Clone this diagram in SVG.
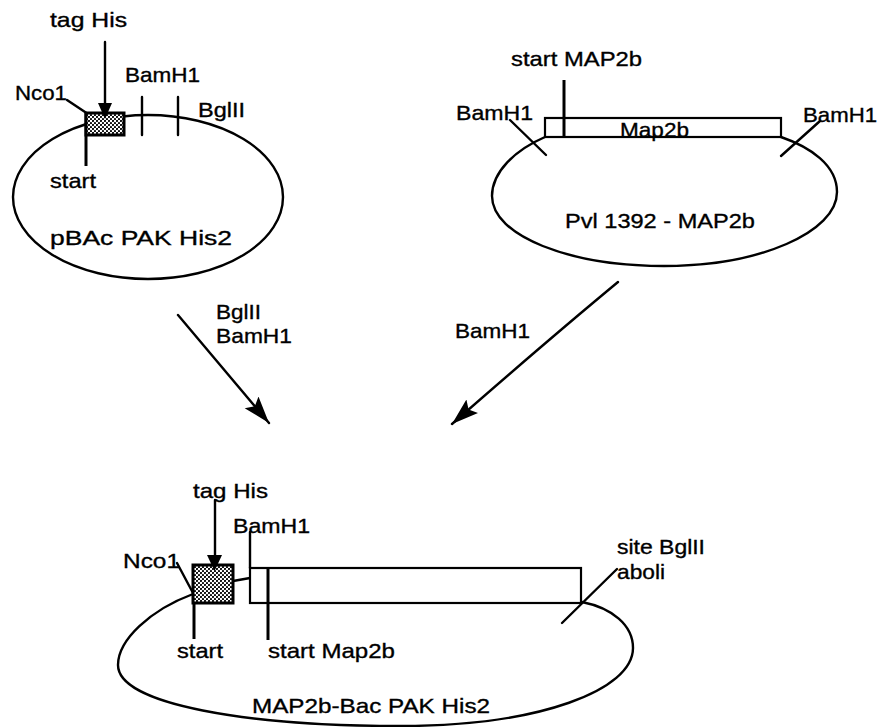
<svg xmlns="http://www.w3.org/2000/svg" width="887" height="727" viewBox="0 0 887 727">
<defs>
<style>
text{font-family:"Liberation Sans",Arial,sans-serif;font-size:21px;fill:#000;stroke:#000;stroke-width:0.35}
.ln{stroke:#000;stroke-width:2.4;fill:none;stroke-linecap:round}
.th{stroke:#000;stroke-width:3;fill:none}
.box{fill:url(#dots);stroke:#000;stroke-width:3}
.frag{fill:#fff;stroke:#000;stroke-width:2.2}
.head{fill:#000;stroke:none}
</style>
<pattern id="dots" width="4" height="4" patternUnits="userSpaceOnUse">
<rect width="4" height="4" fill="#fff"/>
<circle cx="1" cy="1" r="1.1" fill="#000"/>
<circle cx="3" cy="3" r="1.1" fill="#000"/>
</pattern>
<marker id="arr" markerUnits="userSpaceOnUse" markerWidth="30" markerHeight="20" refX="27" refY="9" orient="auto">
<path d="M0,0 L27,9 L0,18 L5,9 z" fill="#000"/>
</marker>
</defs>
<rect width="887" height="727" fill="#fff"/>

<g id="plasmid-pBAc">
<ellipse cx="148" cy="197" rx="135" ry="82" class="ln"/>
<line x1="142" y1="97" x2="142" y2="135" class="ln"/>
<line x1="178" y1="97" x2="178" y2="135" class="ln"/>
<line x1="67" y1="100" x2="88" y2="114" class="ln"/>
<line x1="86" y1="113" x2="86" y2="166" class="th"/>
<rect x="86" y="113" width="38" height="22" class="box"/>
<line x1="105" y1="42" x2="105" y2="104" class="ln"/>
<polygon points="98,103 112,103 105,119" class="head"/>
<text x="50" y="27" textLength="77" lengthAdjust="spacingAndGlyphs">tag His</text>
<text x="125" y="82" textLength="75" lengthAdjust="spacingAndGlyphs">BamH1</text>
<text x="198" y="117" textLength="47" lengthAdjust="spacingAndGlyphs">BglII</text>
<text x="15" y="100" textLength="52" lengthAdjust="spacingAndGlyphs">Nco1</text>
<text x="50" y="188" textLength="46" lengthAdjust="spacingAndGlyphs">start</text>
<text x="50" y="245" textLength="182" lengthAdjust="spacingAndGlyphs">pBAc PAK His2</text>
</g>

<g id="plasmid-Pvl1392">
<path d="M545,137 C515,150 492,172 492,196 C492,236 570,266 664,266 C760,266 837,232 837,192 C837,165 810,147 781,137" class="ln"/>
<rect x="545" y="118" width="236" height="19" class="frag"/>
<text x="620" y="137" textLength="69" lengthAdjust="spacingAndGlyphs">Map2b</text>
<line x1="564" y1="80" x2="564" y2="137" class="th"/>
<line x1="510" y1="120" x2="546" y2="155" class="ln"/>
<line x1="781" y1="156" x2="820" y2="121" class="ln"/>
<text x="511" y="66" textLength="131" lengthAdjust="spacingAndGlyphs">start MAP2b</text>
<text x="456" y="120" textLength="77" lengthAdjust="spacingAndGlyphs">BamH1</text>
<text x="803" y="122" textLength="74" lengthAdjust="spacingAndGlyphs">BamH1</text>
<text x="565" y="228" textLength="190" lengthAdjust="spacingAndGlyphs">Pvl 1392 - MAP2b</text>
</g>

<g id="connectors">
<line x1="178" y1="315" x2="269" y2="423" class="ln" marker-end="url(#arr)"/>
<path d="M618,282 Q548,340 452,424" class="ln" marker-end="url(#arr)"/>
<text x="216" y="319" textLength="45" lengthAdjust="spacingAndGlyphs">BglII</text>
<text x="216" y="343" textLength="76" lengthAdjust="spacingAndGlyphs">BamH1</text>
<text x="455" y="338" textLength="75" lengthAdjust="spacingAndGlyphs">BamH1</text>
</g>

<g id="plasmid-MAP2b-Bac">
<path d="M193,594 C150,610 118,640 118,665 C118,705 250,726 400,726 C540,726 633,690 633,648 C633,625 612,608 582,602" class="ln"/>
<line x1="177" y1="563" x2="193" y2="593" class="ln"/>
<line x1="194" y1="603" x2="194" y2="639" class="th"/>
<rect x="193" y="565" width="40" height="38" class="box"/>
<line x1="233" y1="581" x2="250" y2="578" class="ln"/>
<line x1="215" y1="500" x2="215" y2="556" class="ln"/>
<polygon points="207,555 222,555 214.5,571" class="head"/>
<line x1="250" y1="532" x2="250" y2="568" class="ln"/>
<rect x="250" y="568" width="331" height="35" class="frag"/>
<line x1="268" y1="568" x2="268" y2="640" class="th"/>
<line x1="562" y1="623" x2="617" y2="569" class="ln"/>
<text x="193" y="498" textLength="75" lengthAdjust="spacingAndGlyphs">tag His</text>
<text x="233" y="533" textLength="77" lengthAdjust="spacingAndGlyphs">BamH1</text>
<text x="123" y="568" textLength="57" lengthAdjust="spacingAndGlyphs">Nco1</text>
<text x="177" y="658" textLength="46" lengthAdjust="spacingAndGlyphs">start</text>
<text x="268" y="658" textLength="127" lengthAdjust="spacingAndGlyphs">start Map2b</text>
<text x="617" y="554" textLength="88" lengthAdjust="spacingAndGlyphs">site BglII</text>
<text x="617" y="579" textLength="48" lengthAdjust="spacingAndGlyphs">aboli</text>
<text x="252" y="713" textLength="238" lengthAdjust="spacingAndGlyphs">MAP2b-Bac PAK His2</text>
</g>
</svg>
